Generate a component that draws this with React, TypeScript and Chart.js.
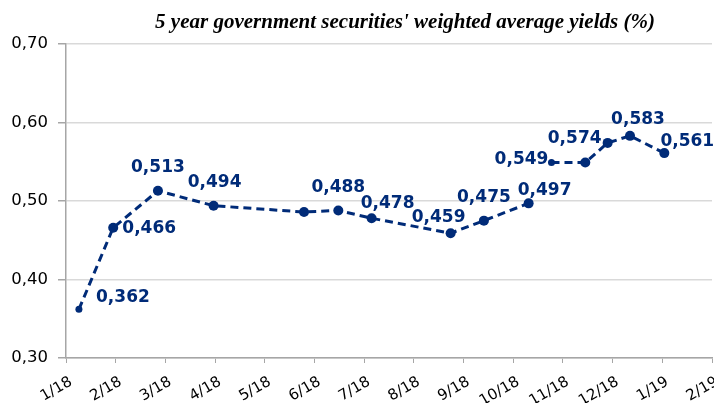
import React, { useEffect, useRef } from "react";
import { Chart, registerables } from "chart.js";

Chart.register(...registerables);

const TITLE = "5 year government securities' weighted average yields (%)";

// x tick labels (month / year)
const tickLabels = ["1/18", "2/18", "3/18", "4/18", "5/18", "6/18", "7/18", "8/18", "9/18", "10/18", "11/18", "12/18", "1/19", "2/19"];

// observation dates, expressed in months since 1/18
const monthPos = [0.26, 0.95, 1.85, 2.97, 4.79, 5.48, 6.15, 7.74, 8.41, 9.31, 9.77, 10.45, 10.9, 11.35, 12.04];

// weighted average yields (%)
const yields = [0.362, 0.466, 0.513, 0.494, 0.486, 0.488, 0.478, 0.459, 0.475, 0.497, 0.549, 0.549, 0.574, 0.583, 0.561];

// which observations carry a value label
const labelled = [true, true, true, true, false, true, true, true, true, true, true, false, true, true, true];

// the line is broken after this observation index
const breakAfter = [9];

// label offsets (style only): [dx, dy] from the point centre
const labelOffsets: [number, number][] = [
  [44, -12], [36, 1], [0, -23], [1, -23], [0, 0], [0, -23], [16, -15], [-12, -16],
  [0, -23], [16, -13], [-30, -3], [0, 0], [-33, -4], [8, -16], [23, -12],
];
const pointSizes = [3.5, 5, 5, 5, 5, 5, 5, 5, 5, 5, 3.5, 5, 5, 5, 5];

const NAVY = "#002B78";

const titlePlugin = {
  id: "customTitle",
  afterDraw(chart: any) {
    const ctx = chart.ctx;
    ctx.save();
    ctx.font = "italic bold 21px 'Liberation Serif', 'Times New Roman', serif";
    ctx.fillStyle = "#000";
    ctx.textAlign = "center";
    ctx.textBaseline = "alphabetic";
    ctx.fillText(TITLE, 405, 28);
    ctx.restore();
  },
};

const labelPlugin = {
  id: "valueLabels",
  afterDatasetsDraw(chart: any) {
    const ctx = chart.ctx;
    const meta = chart.getDatasetMeta(0);
    ctx.save();
    ctx.font = "bold 17px 'DejaVu Sans', Verdana, sans-serif";
    ctx.fillStyle = NAVY;
    ctx.textAlign = "center";
    ctx.textBaseline = "middle";
    meta.data.forEach((pt: any, i: number) => {
      if (!labelled[i]) return;
      const [dx, dy] = labelOffsets[i];
      ctx.fillText(yields[i].toFixed(3).replace(".", ","), pt.x + dx, pt.y + dy);
    });
    ctx.restore();
  },
};

export default function App() {
  const ref = useRef<HTMLCanvasElement>(null);

  useEffect(() => {
    if (!ref.current) return;
    const chart = new Chart(ref.current, {
      type: "line",
      data: {
        datasets: [
          {
            data: monthPos.map((x, i) => ({ x, y: yields[i] })),
            borderColor: NAVY,
            backgroundColor: NAVY,
            borderWidth: 3,
            borderDash: [8, 5],
            pointRadius: pointSizes,
            pointHoverRadius: pointSizes,
            pointBackgroundColor: NAVY,
            pointBorderWidth: 0,
            tension: 0,
            fill: false,
            segment: {
              borderColor: (c: any) => (breakAfter.includes(c.p0DataIndex) ? "rgba(0,0,0,0)" : undefined),
            },
          },
        ],
      },
      options: {
        responsive: false,
        animation: false,
        layout: { padding: { top: 44, right: 0, left: 0, bottom: 0 } },
        plugins: {
          legend: { display: false },
          title: { display: false },
          tooltip: { enabled: false },
        },
        scales: {
          x: {
            type: "linear",
            min: 0,
            max: tickLabels.length - 1,
            afterFit: (s: any) => {
              s.height = 45;
            },
            afterBuildTicks: (s: any) => {
              s.ticks = tickLabels.map((_, i) => ({ value: i }));
            },
            ticks: {
              stepSize: 1,
              autoSkip: false,
              minRotation: 30,
              maxRotation: 30,
              padding: 10,
              labelOffset: 5,
              color: "#000",
              font: { family: "'DejaVu Sans', Verdana, sans-serif", size: 15 },
              callback: (v: any) => tickLabels[Math.round(v)] ?? "",
            },
            grid: {
              drawOnChartArea: false,
              drawTicks: true,
              tickLength: 5,
              tickColor: "#A6A6A6",
            },
            border: { display: true, color: "#A6A6A6", width: 1.5 },
          },
          y: {
            min: 0.3,
            max: 0.7,
            afterFit: (s: any) => {
              s.width = 66;
            },
            ticks: {
              stepSize: 0.1,
              padding: 10,
              color: "#000",
              font: { family: "'DejaVu Sans', Verdana, sans-serif", size: 16.5 },
              callback: (v: any) => Number(v).toFixed(2).replace(".", ","),
            },
            grid: {
              color: "#D9D9D9",
              lineWidth: 1.5,
              tickLength: 8,
              tickColor: "#A6A6A6",
            },
            border: { display: true, color: "#A6A6A6", width: 1.5 },
          },
        },
      },
      plugins: [titlePlugin, labelPlugin],
    });
    return () => chart.destroy();
  }, []);

  return (
    <div style={{ position: "absolute", left: 0, top: 0, width: 714, height: 403, overflow: "hidden", background: "#fff" }}>
      <canvas ref={ref} width={731} height={403} style={{ display: "block" }} />
    </div>
  );
}
